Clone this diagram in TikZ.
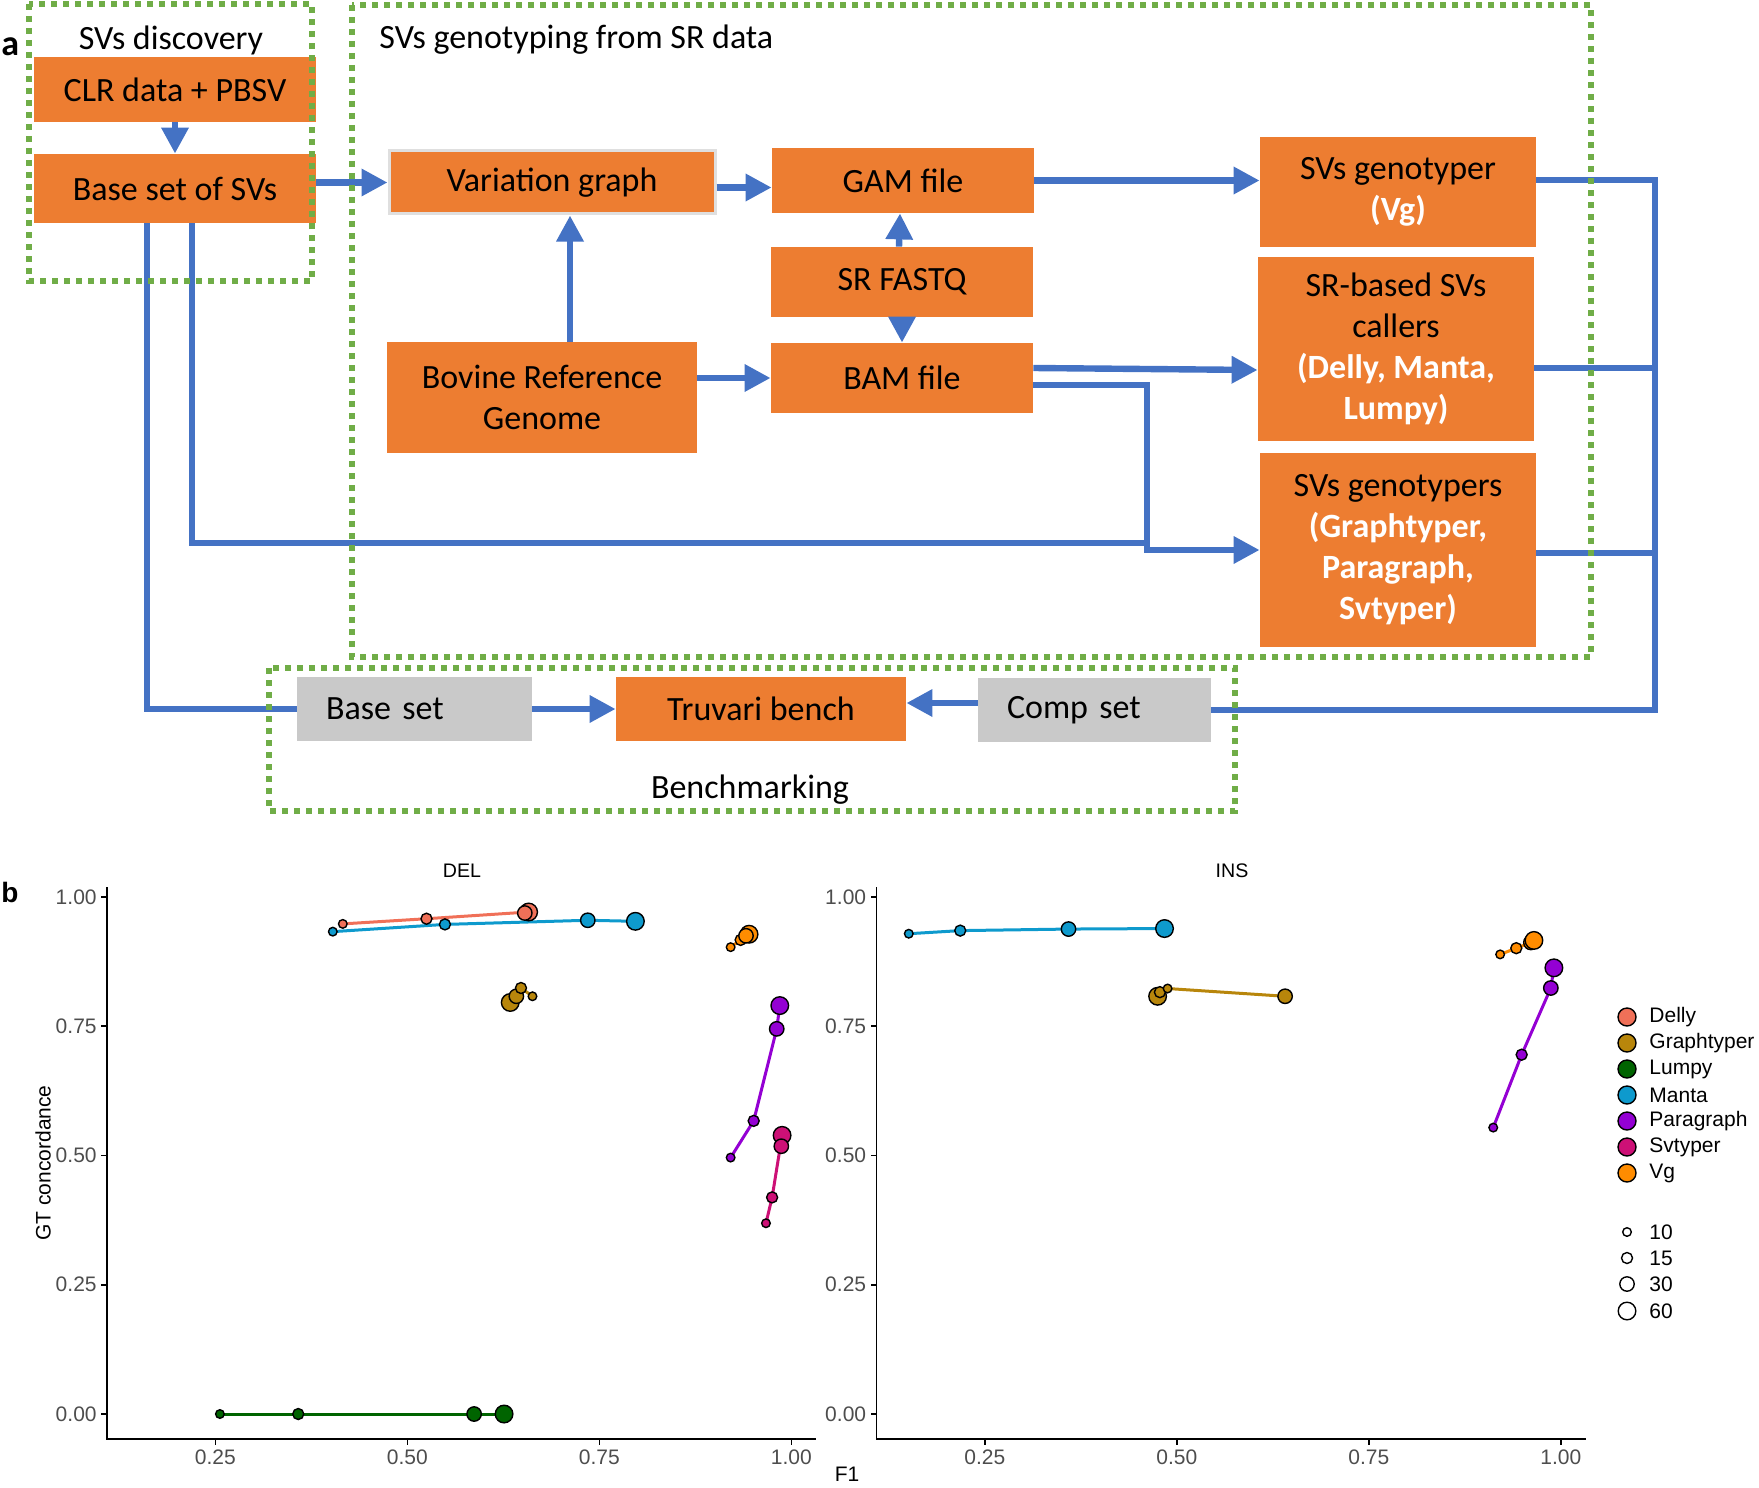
\documentclass[tikz,border=0pt]{standalone}
\usepackage{fontspec}
\setmainfont{Carlito}
\newfontfamily\plotfont{Liberation Sans}
\usetikzlibrary{arrows.meta}

\definecolor{boxorange}{HTML}{ED7D31}
\definecolor{flowblue}{HTML}{4472C4}
\definecolor{dotgreen}{HTML}{70AD47}
\definecolor{setgray}{HTML}{C9C9C9}
\definecolor{tickgray}{HTML}{4D4D4D}
\definecolor{cdelly}{HTML}{F07058}
\definecolor{cgraph}{HTML}{B8860B}
\definecolor{clumpy}{HTML}{006400}
\definecolor{cmanta}{HTML}{0E9ACD}
\definecolor{cpara}{HTML}{9400D3}
\definecolor{csvt}{HTML}{CD1076}
\definecolor{cvg}{HTML}{FF8C00}

\pgfdeclarelayer{front}
\pgfsetlayers{main,front}

\tikzset{
  proc/.style={fill=boxorange, inner sep=0pt, align=center, font=\fontsize{17}{20.5}\selectfont},
  setbox/.style={proc, fill=setgray, align=left, inner xsep=14.5pt, text width=#1},
  stage/.style={draw=dotgreen, line width=3pt, dash pattern=on 3pt off 3pt},
  flow/.style={draw=flowblue, line width=3.2pt},
  arr/.style={flow, -{Triangle[length=13pt,width=13pt]}},
  axisline/.style={draw=black, line width=0.8pt},
  ticklab/.style={text=tickgray, inner sep=2pt, font=\fontsize{10.5}{12}\plotfont},
  plottext/.style={inner sep=0pt, font=\fontsize{10.5}{12}\plotfont},
  serline/.style={line width=1.5pt, line cap=round},
  dot/.style={draw=black, line width=0.7pt}
}

\newcommand{\wbtext}[1]{{\bfseries\color{white}#1}}

% one facet: axes, ticks and labels
\newcommand{\facetaxes}[1]{%
  \draw[axisline] (0.109,1.0185) -- (0.109,-0.0485) -- (1.0326,-0.0485);
  \foreach \t/\lab [count=\i] in {0/0.00,0.25/0.25,0.5/0.50,0.75/0.75,1/1.00}
    \draw[axisline] (0.109,\t) -- ++(-2.8pt,0) node[ticklab, left] (#1y\i) {\lab};
  \foreach \t/\lab [count=\i] in {0.25/0.25,0.5/0.50,0.75/0.75,1/1.00}
    \draw[axisline] (\t,-0.0485) -- ++(0,-2.8pt) node[ticklab, below] (#1x\i) {\lab};
}

% one caller: F1/GT/radius
\newcommand{\svplot}[2]{%
  \foreach \f/\g/\s [count=\i, remember=\f as \pf (initially 0), remember=\g as \pg (initially 0)] in {#2}{%
    \ifnum\i>1 \draw[serline, #1] (\pf,\pg) -- (\f,\g);\fi
    \begin{pgfonlayer}{front}
      \filldraw[dot, fill=#1] (\f,\g) circle[radius=\s pt];
    \end{pgfonlayer}}%
}

\begin{document}
\begin{tikzpicture}[x=0.5pt, y=-0.5pt]
\useasboundingbox (0,0) rectangle (1759,1487);

% panel a
\node[inner sep=0pt, anchor=west, font=\fontsize{18}{20}\selectfont\bfseries] (pa) at (1,47) {a};

\node[proc, minimum width=141pt, minimum height=32.5pt] (clr) at (175,89.5) {CLR data + PBSV};
\node[proc, minimum width=141pt, minimum height=34.5pt] (base) at (175,188.5) {Base set of SVs};
\node[proc, draw=gray!25, line width=1.5pt, minimum width=163pt, minimum height=31.5pt] (vg) at (552,182.5) {Variation graph};
\node[proc, minimum width=131pt, minimum height=32.5pt] (gam) at (903,180.5) {GAM file};
\node[proc, minimum width=131pt, minimum height=35pt] (sr) at (902,282) {SR FASTQ};
\node[proc, minimum width=131pt, minimum height=35pt] (bam) at (902,378) {BAM file};
\node[proc, minimum width=155pt, minimum height=55.5pt] (bov) at (542,397.5) {Bovine Reference\\Genome};
\node[proc, minimum width=138pt, minimum height=55pt] (svg) at (1398,192) {SVs genotyper\\\wbtext{(Vg)}};
\node[proc, minimum width=138pt, minimum height=92pt] (call) at (1396,349) {SR-based SVs\\callers\\\wbtext{(Delly, Manta,}\\\wbtext{Lumpy)}};
\node[proc, minimum width=138pt, minimum height=97pt] (gtyp) at (1398,550) {SVs genotypers\\\wbtext{(Graphtyper,}\\\wbtext{Paragraph,}\\\wbtext{Svtyper)}};
\node[setbox=88.5pt, minimum height=32pt] (bset) at (414.5,709) {Base set};
\node[proc, minimum width=145pt, minimum height=32pt] (truv) at (761,709) {Truvari bench};
\node[setbox=87.5pt, minimum height=32pt] (comp) at (1094.5,710) {Comp set};

\coordinate (split) at (1147,550);
\coordinate (trunk) at (1655,180);

\draw[arr] (clr) -- (base);
\draw[arr] (base.east |- vg.west) -- (vg.west);
\draw[arr] ([yshift=-2.5pt]vg.east) -- ([yshift=-2.5pt]vg.east -| gam.west);
\draw[arr] ([xshift=14pt]bov.north) -- ([xshift=14pt]bov.north |- vg.south);
\draw[arr] (bov.east |- bam.west) -- (bam.west);
\draw[arr] ([xshift=-1.5pt]sr.north) -- ([xshift=-1.5pt]gam.south);
\draw[arr] (sr.south) -- (bam.north);
\draw[arr] (gam.east) -- (gam.east -| svg.west);
\draw[arr] ([yshift=5pt]bam.east) -- ([yshift=-10.5pt]call.west);
\draw[arr] ([yshift=-3.5pt]bam.east) -| (split) -- (gtyp.west);
\draw[flow] ([xshift=8.5pt]base.south) |- ([yshift=3.5pt]split);
\draw[flow] ([xshift=-14pt]base.south) |- (bset.west);
\draw[arr] (bset.east) -- (truv.west);
\draw[arr] ([yshift=3.5pt]comp.west) -- ([yshift=3.5pt]comp.west -| truv.east);
\draw[flow] ([yshift=6pt]svg.east) -- (trunk) -- (trunk |- comp.east) -- (comp.east);
\draw[flow] ([yshift=-9.5pt]call.east) -- ([yshift=-9.5pt]call.east -| trunk);
\draw[flow] ([yshift=-1.5pt]gtyp.east) -- ([yshift=-1.5pt]gtyp.east -| trunk);

% stages
\draw[stage] (29,4) rectangle (312,281);
\draw[stage] (352,5) rectangle (1591,657);
\draw[stage] (269,668) rectangle (1235,811);
\node[inner sep=0pt, font=\fontsize{17}{20}\selectfont] (disc) at (171,40) {SVs discovery};
\node[inner sep=0pt, anchor=west, font=\fontsize{17}{20}\selectfont] (geno) at (379,40) {SVs genotyping from SR data};
\node[inner sep=0pt, font=\fontsize{17}{20}\selectfont] (bench) at (750,790) {Benchmarking};

% panel b
\node[inner sep=0pt, anchor=west, font=\fontsize{14}{16}\plotfont\bfseries] (pb) at (1,892) {b};
\node[plottext, font=\fontsize{9.8}{12}\plotfont] (tdel) at (462,871) {DEL};
\node[plottext, font=\fontsize{9.8}{12}\plotfont] (tins) at (1232,871) {INS};
\node[plottext, rotate=90] (ylab) at (43,1163) {GT concordance};
\node[plottext] (xlab) at (847,1474) {F1};

\begin{scope}[shift={(11.65pt,-707pt)}, x=384pt, y=258.5pt]
  \facetaxes{d}
  \svplot{cdelly}{0.416/0.948/2.15, 0.525/0.958/2.75, 0.658/0.971/4.4, 0.653/0.969/3.6}
  \svplot{cmanta}{0.403/0.933/2.15, 0.549/0.947/2.75, 0.735/0.955/3.6, 0.797/0.953/4.4}
  \svplot{cgraph}{0.634/0.796/4.4, 0.642/0.808/3.6, 0.648/0.824/2.75, 0.663/0.808/2.15}
  \svplot{cvg}{0.921/0.903/2.15, 0.934/0.917/2.75, 0.945/0.928/4.4, 0.941/0.925/3.6}
  \svplot{cpara}{0.921/0.496/2.15, 0.951/0.567/2.75, 0.981/0.745/3.6, 0.985/0.790/4.4}
  \svplot{csvt}{0.967/0.369/2.15, 0.975/0.419/2.75, 0.988/0.539/4.4, 0.987/0.518/3.6}
  \svplot{clumpy}{0.256/0/2.15, 0.358/0/2.75, 0.587/0/3.6, 0.626/0/4.4}
\end{scope}

\begin{scope}[shift={(396.4pt,-707pt)}, x=384pt, y=258.5pt]
  \facetaxes{i}
  \svplot{cmanta}{0.151/0.929/2.15, 0.218/0.935/2.75, 0.359/0.938/3.6, 0.484/0.939/4.4}
  \svplot{cgraph}{0.475/0.808/4.4, 0.478/0.816/2.75, 0.488/0.823/2.15, 0.641/0.808/3.6}
  \svplot{cvg}{0.921/0.889/2.15, 0.942/0.901/2.75, 0.961/0.912/3.6, 0.965/0.916/4.4}
  \svplot{cpara}{0.912/0.554/2.15, 0.949/0.695/2.75, 0.987/0.824/3.6, 0.991/0.863/4.4}
\end{scope}

% legend
\foreach \n/\c [count=\k from 0] in {Delly/cdelly,Graphtyper/cgraph,Lumpy/clumpy,Manta/cmanta,Paragraph/cpara,Svtyper/csvt,Vg/cvg}{
  \filldraw[dot, fill=\c] (1627,{1017+26*\k}) circle[radius=4.5pt];
  \node[plottext, anchor=west] (leg\k) at (1649,{1017+26*\k}) {\n};
}
\foreach \n/\r/\yy in {10/2.15/1232,15/2.75/1258,30/3.6/1284,60/4.4/1311}{
  \draw[dot] (1627,\yy) circle[radius=\r pt];
  \node[plottext, anchor=west] (size\n) at (1649,\yy) {\n};
}
\end{tikzpicture}
\end{document}
